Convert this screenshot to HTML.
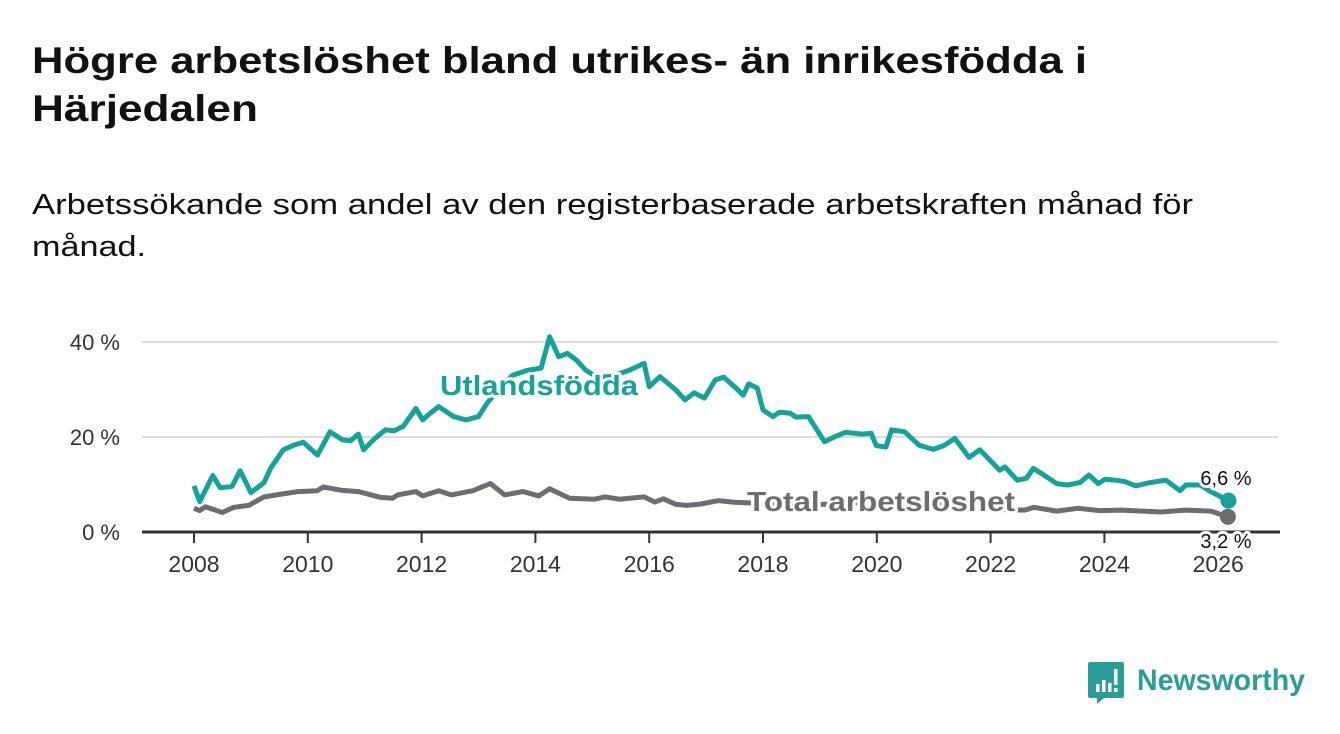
<!DOCTYPE html>
<html><head><meta charset="utf-8">
<style>
html,body{margin:0;padding:0;background:#fff;}
svg{display:block;font-family:"Liberation Sans",sans-serif;}
.halo{paint-order:stroke;stroke:#fff;stroke-width:6px;stroke-linejoin:round;}
</style></head>
<body>
<svg id="chart" width="1340" height="734" viewBox="0 0 1340 734" xmlns="http://www.w3.org/2000/svg">
  <text x="32" y="73" font-size="37" font-weight="bold" fill="#111" textLength="1055" lengthAdjust="spacingAndGlyphs">Högre arbetslöshet bland utrikes- än inrikesfödda i</text>
  <text x="32" y="121" font-size="37" font-weight="bold" fill="#111" textLength="226" lengthAdjust="spacingAndGlyphs">Härjedalen</text>
  <text x="32" y="214" font-size="29" fill="#111" textLength="1161" lengthAdjust="spacingAndGlyphs">Arbetssökande som andel av den registerbaserade arbetskraften månad för</text>
  <text x="32" y="256" font-size="29" fill="#111" textLength="114" lengthAdjust="spacingAndGlyphs">månad.</text>
  <g id="grid"></g>
  <g id="axes"></g>
  <g id="series"></g>
  <g id="labels"></g>
  <g>
    <path d="M1090 662 h32 a2 2 0 0 1 2 2 v32 a2 2 0 0 1 -2 2 h-18 l-7 6 v-6 h-7 a2 2 0 0 1 -2 -2 v-32 a2 2 0 0 1 2 -2z" fill="#2a9d98"/>
    <rect x="1096" y="684" width="3.5" height="8" fill="#fff"/>
    <rect x="1102" y="680" width="3.5" height="12" fill="#fff"/>
    <rect x="1108" y="683" width="3.5" height="9" fill="#fff"/>
    <rect x="1114" y="669" width="3.5" height="16" fill="#fff"/>
    <rect x="1114" y="688" width="3.5" height="4" fill="#fff"/>
    <text x="1137" y="690" font-size="30" font-weight="bold" fill="#2a9d98" textLength="168" lengthAdjust="spacingAndGlyphs">Newsworthy</text>
  </g>
</svg>
<script>
const yTicks = [0, 20, 40];
const yTickLabels = ["0 %", "20 %", "40 %"];
const xTicks = [2008, 2010, 2012, 2014, 2016, 2018, 2020, 2022, 2024, 2026];
const utlYears = [2008.0,2008.1,2008.33,2008.46,2008.67,2008.81,2009.0,2009.23,2009.35,2009.57,2009.76,2009.92,2010.17,2010.39,2010.61,2010.75,2010.89,2010.98,2011.17,2011.36,2011.52,2011.68,2011.9,2012.02,2012.15,2012.3,2012.56,2012.78,2013.0,2013.15,2013.35,2013.6,2013.85,2014.1,2014.25,2014.41,2014.56,2014.72,2014.88,2015.1,2015.35,2015.66,2015.91,2016.0,2016.19,2016.47,2016.63,2016.79,2016.97,2017.16,2017.31,2017.56,2017.65,2017.75,2017.9,2018.0,2018.17,2018.29,2018.48,2018.58,2018.8,2019.08,2019.27,2019.45,2019.74,2019.9,2019.99,2020.16,2020.26,2020.49,2020.74,2020.99,2021.18,2021.37,2021.62,2021.81,2022.16,2022.25,2022.47,2022.63,2022.75,2022.91,2023.16,2023.35,2023.57,2023.73,2023.89,2024.01,2024.2,2024.36,2024.55,2024.8,2025.08,2025.33,2025.43,2025.68,2025.87,2026.18];
const utlValues = [9.7,6.4,11.9,9.3,9.6,12.9,8.3,10.4,13.5,17.3,18.3,18.9,16.2,21.1,19.4,19.2,20.6,17.3,19.6,21.5,21.3,22.3,26.0,23.6,25.0,26.4,24.3,23.6,24.3,27.1,30.0,33.0,34.0,34.5,41.1,36.9,37.6,36.2,34.1,32.5,32.8,34.1,35.5,30.6,32.7,29.9,27.8,29.3,28.2,32.0,32.6,29.9,28.8,31.2,30.3,25.7,24.3,25.2,25.0,24.2,24.3,19.0,20.1,21.0,20.6,20.8,18.2,17.9,21.5,21.1,18.3,17.4,18.2,19.7,15.7,17.3,13.0,13.7,10.9,11.3,13.4,12.2,10.2,9.9,10.4,12.0,10.2,11.1,10.9,10.6,9.7,10.4,10.9,8.7,9.9,9.9,8.5,6.6];
const totYears = [2008.0,2008.1,2008.2,2008.5,2008.7,2008.96,2009.23,2009.45,2009.82,2010.17,2010.27,2010.58,2010.89,2011.27,2011.49,2011.58,2011.9,2012.02,2012.3,2012.52,2012.9,2013.21,2013.46,2013.78,2014.06,2014.25,2014.6,2015.04,2015.22,2015.48,2015.91,2016.1,2016.25,2016.47,2016.66,2016.91,2017.22,2017.47,2017.65,2018.0,2018.5,2019.0,2019.5,2020.2,2020.8,2021.5,2022.0,2022.6,2022.76,2023.16,2023.54,2023.92,2024.3,2024.99,2025.43,2025.87,2026.17];
const totValues = [5.0,4.5,5.3,4.1,5.2,5.6,7.4,7.8,8.5,8.7,9.5,8.8,8.5,7.3,7.1,7.8,8.5,7.6,8.7,7.8,8.7,10.2,7.8,8.5,7.6,9.1,7.1,6.9,7.4,6.9,7.4,6.3,7.0,5.8,5.6,5.9,6.6,6.3,6.2,6.0,5.8,5.8,6.0,6.5,6.0,5.5,4.8,4.6,5.2,4.4,5.0,4.5,4.6,4.2,4.6,4.4,3.2];
const endLabels = ["6,6 %", "3,2 %"];

const NS = "http://www.w3.org/2000/svg";
function xScale(yr){ return 194 + (yr - 2008) * 56.9; }
function yScale(v){ return 532 - v * 4.75; }
function mk(tag, attrs, parent){ const e=document.createElementNS(NS,tag); for(const k in attrs) e.setAttribute(k,attrs[k]); parent.appendChild(e); return e; }

const grid=document.getElementById('grid'), axes=document.getElementById('axes'), series=document.getElementById('series'), labels=document.getElementById('labels');
yTicks.forEach((t,i)=>{
  if(t!==0){
    const l=mk('line',{x1:142,x2:1278,y1:yScale(t),y2:yScale(t),stroke:'#dcdcdc','stroke-width':2},grid);
    
    
  }
  const tx=mk('text',{x:120,y:yScale(t)+8,'font-size':22,fill:'#333','text-anchor':'end'},axes);
  tx.textContent=yTickLabels[i];
  
  
});
const ax=mk('line',{x1:142,x2:1280,y1:532,y2:532,stroke:'#333','stroke-width':3},axes);


xTicks.forEach(t=>{
  const tk=mk('line',{x1:xScale(t),x2:xScale(t),y1:532,y2:543,stroke:'#333','stroke-width':2},axes);
  
  
  const tx=mk('text',{x:xScale(t),y:572,'font-size':23,fill:'#333','text-anchor':'middle'},axes);
  tx.textContent=String(t);
  
  
});
function path(xs,vs){ return xs.map((x,i)=>(i?'L':'M')+xScale(x).toFixed(1)+' '+yScale(vs[i]).toFixed(1)).join(' '); }
const pt=mk('path',{d:path(totYears,totValues),fill:'none',stroke:'#6e6c72','stroke-width':5,'stroke-linejoin':'round'},series);


const pu=mk('path',{d:path(utlYears,utlValues),fill:'none',stroke:'#14a398','stroke-width':5,'stroke-linejoin':'round'},series);


const du=mk('circle',{cx:xScale(utlYears[utlYears.length-1]),cy:yScale(utlValues[utlValues.length-1]),r:8,fill:'#14a398'},series);


const dt=mk('circle',{cx:xScale(totYears[totYears.length-1]),cy:yScale(totValues[totValues.length-1]),r:8,fill:'#6e6c72'},series);



const lu=mk('text',{x:440,y:395,'font-size':28,'font-weight':'bold',fill:'#14a398',class:'halo',textLength:198,lengthAdjust:'spacingAndGlyphs'},labels);
lu.textContent='Utlandsfödda';


const lt=mk('text',{x:747,y:511,'font-size':28,'font-weight':'bold',fill:'#6e6c72',class:'halo',textLength:268,lengthAdjust:'spacingAndGlyphs'},labels);
lt.textContent='Total arbetslöshet';


const eu=mk('text',{x:1226,y:485,'font-size':20,fill:'#111','text-anchor':'middle',class:'halo'},labels);
eu.textContent=endLabels[0];


const et=mk('text',{x:1226,y:548,'font-size':20,fill:'#111','text-anchor':'middle',class:'halo'},labels);
et.textContent=endLabels[1];


</script>
</body></html>
